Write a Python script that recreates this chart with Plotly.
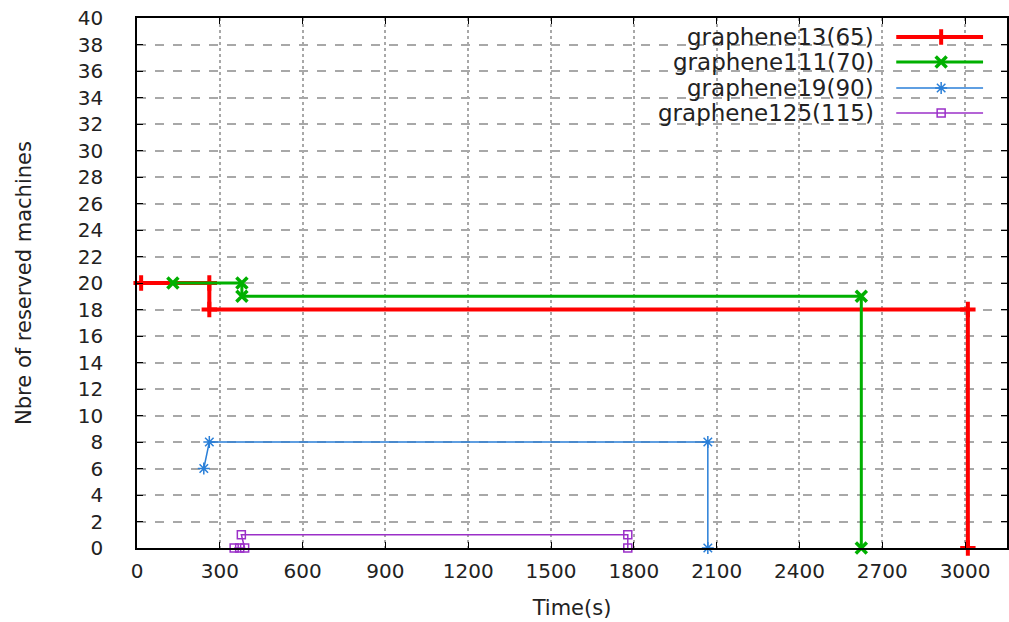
import plotly.graph_objects as go

# ---- data ----
names = ["graphene13(65)", "graphene111(70)", "graphene19(90)", "graphene125(115)"]
g13_t = [15, 262, 262, 3010, 3010]
g13_n = [20, 20, 18, 18, 0]
g111_t = [130, 380, 380, 2624, 2624]
g111_n = [20, 20, 19, 19, 0]
g19_t = [242, 262, 2068, 2068]
g19_n = [6, 8, 8, 0]
g125_t = [352, 372, 390, 378, 1778, 1778]
g125_n = [0, 0, 0, 1, 1, 0]

x_ticks = list(range(0, 3001, 300))
y_ticks = list(range(0, 41, 2))

colors = ["#ff0000", "#00b000", "#2a7fd8", "#9b30c8"]
widths = [4, 3, 1.5, 1.5]
symbols = ["cross-thin", "x-thin", "asterisk", "square-open"]
msizes = [11, 11, 10, 8]
mlw = [4, 3.5, 1.5, 1.5]

series = [(g13_t, g13_n), (g111_t, g111_n), (g19_t, g19_n), (g125_t, g125_n)]

FONT = "DejaVu Sans"
fig = go.Figure()
for i, (t, n) in enumerate(series):
    fig.add_trace(go.Scatter(
        x=t, y=n, mode="lines+markers", name=names[i], showlegend=False,
        line=dict(color=colors[i], width=widths[i]),
        marker=dict(symbol=symbols[i], size=msizes[i], color=colors[i],
                    line=dict(color=colors[i], width=mlw[i])),
        cliponaxis=False,
    ))

# custom legend (text left, sample right) on an overlay axis matching the plot area
W, H = 1009, 622
L, T, B = 137, 18, 74
pw, ph = W - L, H - T - B
def px(xp): return (xp - L) / pw
def py(yp): return (H - B - yp) / ph
rows = [37, 62, 88, 113]
for i in range(4):
    yy = py(rows[i])
    fig.add_trace(go.Scatter(
        x=[px(898), px(985)], y=[yy, yy], mode="lines", xaxis="x2", yaxis="y2",
        showlegend=False, hoverinfo="skip",
        line=dict(color=colors[i], width=widths[i])))
    fig.add_trace(go.Scatter(
        x=[px(943)], y=[yy], mode="markers", xaxis="x2", yaxis="y2",
        showlegend=False, hoverinfo="skip",
        marker=dict(symbol=symbols[i], size=msizes[i], color=colors[i],
                    line=dict(color=colors[i], width=mlw[i]))))
    fig.add_annotation(x=px(878), y=yy, xref="paper", yref="paper",
                       text=names[i], showarrow=False, xanchor="right",
                       yanchor="middle", font=dict(family=FONT, size=23, color="#222"))

fig.update_layout(
    width=W, height=H,
    margin=dict(l=L, r=0, t=T, b=B),
    paper_bgcolor="white", plot_bgcolor="white",
    font=dict(family=FONT, size=20, color="#222"),
    xaxis=dict(range=[0, 3000 * pw / 830], tickvals=x_ticks,
               ticks="inside", ticklen=6, tickcolor="black", tickwidth=1,
               showline=True, linecolor="black", linewidth=1.5, mirror="ticks",
               showgrid=True, gridcolor="#a8a8a8", griddash="dot", gridwidth=1.5,
               zeroline=False, tickfont=dict(size=20), ticklabelstandoff=4,
               title=dict(text="Time(s)", font=dict(size=21), standoff=19)),
    yaxis=dict(range=[0, 40], tickvals=y_ticks,
               ticks="inside", ticklen=6, tickcolor="black", tickwidth=1,
               showline=True, linecolor="black", linewidth=1.5, mirror="ticks",
               showgrid=True, gridcolor="#a8a8a8", griddash="dash", gridwidth=1.5,
               zeroline=False, tickfont=dict(size=20), ticklabelstandoff=28,
               title=dict(text="Nbre of reserved machines", font=dict(size=21), standoff=40)),
    xaxis2=dict(range=[0, 1], overlaying="x", visible=False, fixedrange=True),
    yaxis2=dict(range=[0, 1], overlaying="y", visible=False, fixedrange=True),
    showlegend=False,
)

fig.write_html("out.html")
